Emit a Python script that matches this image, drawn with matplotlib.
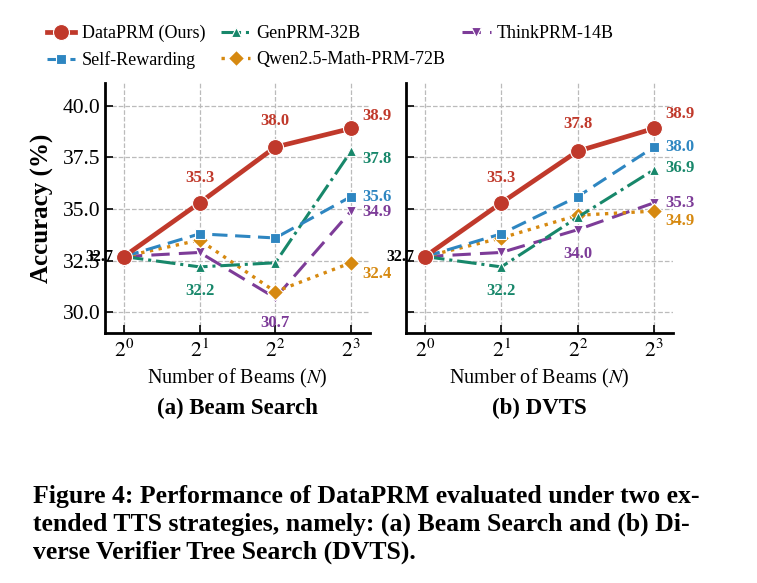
import matplotlib.pyplot as plt

plt.rcParams['font.family'] = ['Liberation Serif', 'DejaVu Serif']
plt.rcParams['mathtext.fontset'] = 'stix'

beams = [0, 1, 2, 3]
beam_labels = ['$2^0$', '$2^1$', '$2^2$', '$2^3$']

# Beam Search accuracy (%)
bs_dataprm = [32.7, 35.3, 38.0, 38.9]
bs_genprm = [32.7, 32.2, 32.4, 37.8]
bs_selfrew = [32.7, 33.8, 33.6, 35.6]
bs_thinkprm = [32.7, 32.9, 30.7, 34.9]
bs_qwen = [32.7, 33.5, 31.0, 32.4]

# DVTS accuracy (%)
dv_dataprm = [32.7, 35.3, 37.8, 38.9]
dv_genprm = [32.7, 32.2, 34.6, 36.9]
dv_selfrew = [32.7, 33.8, 35.6, 38.0]
dv_thinkprm = [32.7, 32.9, 34.0, 35.3]
dv_qwen = [32.7, 33.6, 34.7, 34.9]

names = ['DataPRM (Ours)', 'Self-Rewarding', 'GenPRM-32B', 'Qwen2.5-Math-PRM-72B', 'ThinkPRM-14B']
colors = ['#C0392B', '#2E86C1', '#17876A', '#D68910', '#7D3C98']
styles = ['-', (0, (5, 2.5)), '-.', ':', (0, (6, 3))]
markers = ['o', 's', '^', 'D', 'v']
msizes = [11.5, 7.5, 7.5, 8, 7.5]
lwidths = [3.4, 2.2, 2.2, 2.4, 2.2]

fig = plt.figure(figsize=(7.57, 5.83), dpi=100)
ax1 = fig.add_axes([0.1387, 0.4288, 0.350, 0.4288])
ax2 = fig.add_axes([0.5363, 0.4288, 0.3527, 0.4288])

panels = [
    (ax1, [bs_dataprm, bs_selfrew, bs_genprm, bs_qwen, bs_thinkprm], '(a) Beam Search'),
    (ax2, [dv_dataprm, dv_selfrew, dv_genprm, dv_qwen, dv_thinkprm], '(b) DVTS'),
]

# which points get a value label: (series idx, point idx, dx px, dy px, ha)
label_spots = [
    [(0, 1, 0, 25, 'center'), (0, 2, 0, 26, 'center'), (0, 3, 11, 12, 'left'),
     (2, 1, 0, -24, 'center'), (2, 3, 11, -8, 'left'), (1, 3, 11, 0, 'left'),
     (4, 3, 11, -1, 'left'), (4, 2, 0, -25, 'center'), (3, 3, 11, -11, 'left')],
    [(0, 1, 0, 25, 'center'), (0, 2, 0, 27, 'center'), (0, 3, 11, 14, 'left'),
     (1, 3, 11, 0, 'left'), (2, 3, 11, 2, 'left'), (2, 1, 0, -24, 'center'),
     (4, 3, 11, 0, 'left'), (4, 2, 0, -24, 'center'), (3, 3, 11, -10, 'left')],
]

for pi, (ax, series, title) in enumerate(panels):
    for k in [3, 4, 2, 1, 0]:
        ax.plot(beams, series[k], color=colors[k], linestyle=styles[k], marker=markers[k],
                markersize=msizes[k], linewidth=lwidths[k], markeredgecolor='white',
                markeredgewidth=0.8, label=names[k], zorder=3 + (5 - k))
    for si, xi, dx, dy, ha in label_spots[pi]:
        v = series[si][xi]
        ax.annotate(f'{v:.1f}', (beams[xi], v), xytext=(dx, dy), textcoords='offset pixels',
                    ha=ha, va='center', color=colors[si], fontsize=12, fontweight='bold', zorder=10)
    # first point label sits left of the point (overlaps the 32.5 tick label, as in the paper)
    ax.annotate(f'{series[0][0]:.1f}', (beams[0], series[0][0]), xytext=(-11, 0),
                textcoords='offset pixels', ha='right', va='center', color='black',
                fontsize=11.5, fontweight='bold', zorder=10, annotation_clip=False)
    ax.set_xlim(-0.25, 3.25)
    ax.set_ylim(29.0, 41.1)
    ax.set_xticks(beams)
    ax.set_xticklabels(beam_labels, fontsize=17)
    ax.set_yticks([30.0, 32.5, 35.0, 37.5, 40.0])
    ax.grid(True, linestyle='--', color='#BBBBBB', linewidth=0.9)
    ax.set_axisbelow(True)
    for s in ['top', 'right']:
        ax.spines[s].set_visible(False)
    for s in ['left', 'bottom']:
        ax.spines[s].set_linewidth(2.0)
    ax.tick_params(direction='in', length=6, width=1.2, labelsize=15.5)
    ax.tick_params(axis='x', pad=5)
    ax.set_xlabel('Number of Beams ($N$)', fontsize=14.5, labelpad=3)
    ax.text(0.5, -0.30, title, transform=ax.transAxes, ha='center', va='center',
            fontsize=16.5, fontweight='bold')

ax1.set_yticklabels(['30.0', '32.5', '35.0', '37.5', '40.0'])
ax2.set_yticklabels([])
ax1.set_ylabel('Accuracy (%)', fontsize=18, fontweight='bold', labelpad=6)

handles, labels = ax1.get_legend_handles_labels()
hmap = dict(zip(labels, handles))
fig.legend([hmap[n] for n in names], names, loc='upper left', bbox_to_anchor=(0.04, 0.985),
           ncol=3, frameon=False, fontsize=13, handlelength=1.6, columnspacing=0.9,
           handletextpad=0.35, labelspacing=0.5)

caption = ['Figure 4: Performance of DataPRM evaluated under two ex-',
           'tended TTS strategies, namely: (a) Beam Search and (b) Di-',
           'verse Verifier Tree Search (DVTS).']
for i, line in enumerate(caption):
    fig.text(33 / 757, 1 - (496 + 28 * i) / 583, line, ha='left', va='center',
             fontsize=18.5, fontweight='bold')

fig.savefig('out.png', dpi=100)
